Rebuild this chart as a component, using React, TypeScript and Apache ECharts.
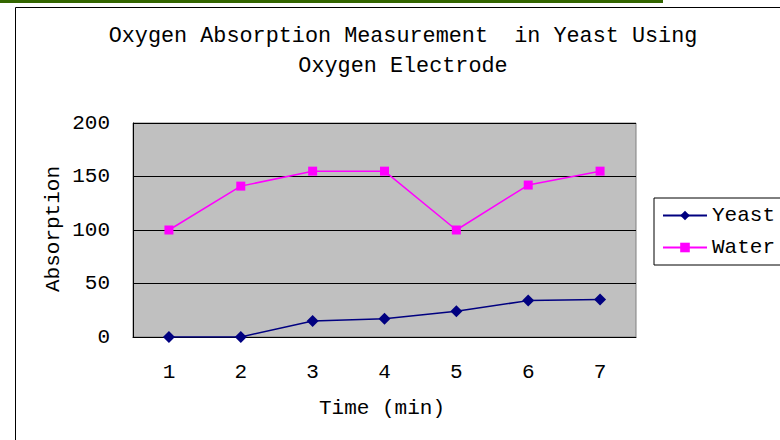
import React, { useEffect, useRef } from "react";
import * as echarts from "echarts";

const categories = ["1", "2", "3", "4", "5", "6", "7"];
const yeastValues = [0, 0, 15, 17, 24, 34, 35];
const waterValues = [100, 141, 155, 155, 100, 142, 155];
const titleLines = ["Oxygen Absorption Measurement  in Yeast Using", "Oxygen Electrode"];
const xTitle = "Time (min)";
const yTitle = "Absorption";

const FONT = "'Liberation Mono', 'DejaVu Sans Mono', monospace";

export default function App() {
  const ref = useRef<HTMLDivElement>(null);
  useEffect(() => {
    const chart = echarts.init(ref.current!, null, { renderer: "svg" });
    chart.setOption({
      animation: false,
      backgroundColor: "#ffffff",
      textStyle: { fontFamily: FONT },
      graphic: [
        { type: "rect", shape: { x: 0, y: 0, width: 663, height: 3 }, style: { fill: "#336600" } },
        { type: "rect", shape: { x: 15.5, y: 7.5, width: 800, height: 500 }, style: { fill: "none", stroke: "#000", lineWidth: 1 } },
        { type: "text", x: 403, y: 36, style: { text: titleLines[0], fontFamily: FONT, fontSize: 21.8, fill: "#000", textAlign: "center", textVerticalAlign: "middle" } },
        { type: "text", x: 403, y: 66, style: { text: titleLines[1], fontFamily: FONT, fontSize: 21.8, fill: "#000", textAlign: "center", textVerticalAlign: "middle" } },
        { type: "text", x: 382, y: 408, style: { text: xTitle, fontFamily: FONT, fontSize: 21, fill: "#000", textAlign: "center", textVerticalAlign: "middle" } },
        { type: "text", x: 53, y: 229, rotation: Math.PI / 2, style: { text: yTitle, fontFamily: FONT, fontSize: 21, fill: "#000", textAlign: "center", textVerticalAlign: "middle" } },
      ],
      grid: {
        left: 133, top: 123, width: 503, height: 214,
        show: true, backgroundColor: "#c0c0c0", borderColor: "#808080", borderWidth: 1,
      },
      legend: {
        left: 654, top: 198, orient: "vertical",
        data: ["Yeast", "Water"],
        itemWidth: 44, itemHeight: 12, itemGap: 11, itemTextGap: 7,
        padding: [7, 8, 7, 8],
        borderColor: "#000", borderWidth: 1, backgroundColor: "#fff",
        textStyle: { fontFamily: FONT, fontSize: 21, color: "#000", lineHeight: 21 },
      },
      xAxis: {
        type: "category", data: categories, boundaryGap: true,
        axisLine: { lineStyle: { color: "#000", width: 1 } },
        axisTick: { inside: true, length: 8, lineStyle: { color: "#000" } },
        axisLabel: { fontFamily: FONT, fontSize: 21, color: "#000", margin: 25 },
      },
      yAxis: {
        type: "value", min: 0, max: 200, interval: 50,
        axisLine: { show: true, lineStyle: { color: "#000", width: 1 } },
        axisTick: { show: true, inside: true, length: 4, lineStyle: { color: "#000" } },
        axisLabel: { fontFamily: FONT, fontSize: 21, color: "#000", margin: 23 },
        splitLine: { lineStyle: { color: "#000", width: 1 } },
      },
      series: [
        {
          name: "Yeast", type: "line", data: yeastValues,
          symbol: "diamond", symbolSize: 12,
          lineStyle: { color: "#000080", width: 1.5 },
          itemStyle: { color: "#000080" },
        },
        {
          name: "Water", type: "line", data: waterValues,
          symbol: "rect", symbolSize: 9,
          lineStyle: { color: "#ff00ff", width: 1.5 },
          itemStyle: { color: "#ff00ff" },
        },
      ],
    });
    return () => chart.dispose();
  }, []);
  return <div ref={ref} style={{ position: "fixed", left: 0, top: 0, width: 780, height: 440 }} />;
}
